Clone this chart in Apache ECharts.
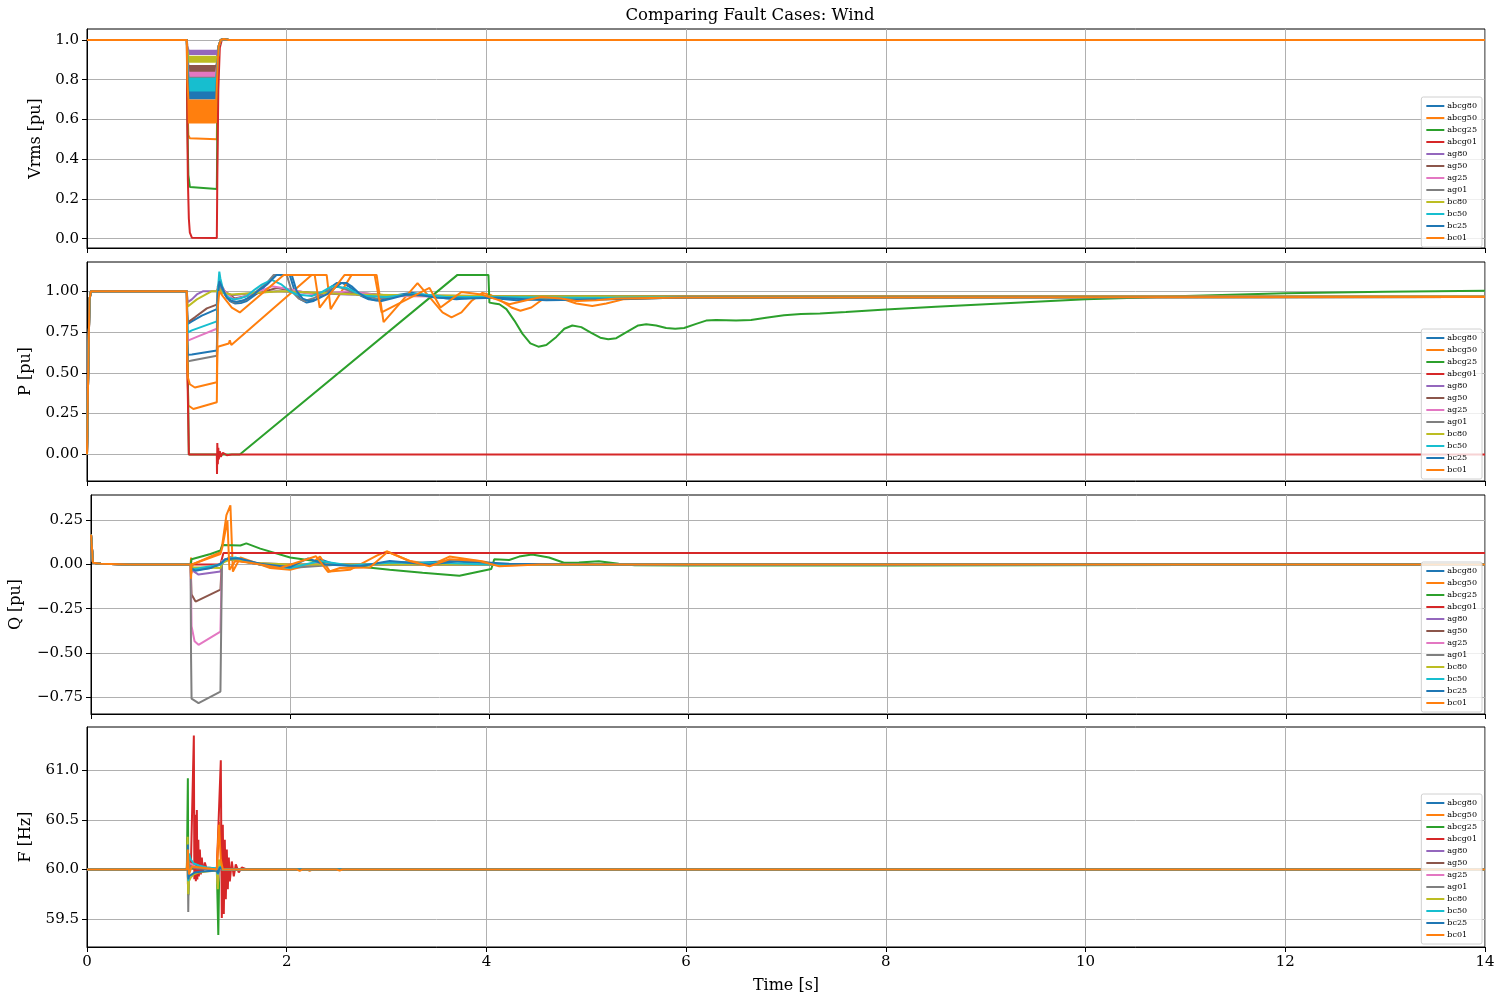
<!DOCTYPE html>
<html>
<head>
<meta charset="utf-8">
<title>Comparing Fault Cases: Wind</title>
<script src="https://cdn.jsdelivr.net/npm/echarts@6.0.0/dist/echarts.min.js"></script>
<style>
  html, body { margin: 0; padding: 0; background: #fff; }
  #chart { width: 1500px; height: 1000px; }
</style>
</head>
<body>
<div id="chart"></div>
<script>
// 故障工况名称与颜色
const caseNames = ['abcg80', 'abcg50', 'abcg25', 'abcg01', 'ag80', 'ag50', 'ag25', 'ag01', 'bc80', 'bc50', 'bc25', 'bc01'];
const caseColors = ['#1f77b4', '#ff7f0e', '#2ca02c', '#d62728', '#9467bd', '#8c564b', '#e377c2', '#7f7f7f', '#bcbd22', '#17becf', '#1f77b4', '#ff7f0e'];

const vrmsTicks = [0, 0.2, 0.4, 0.6, 0.8, 1.0];
const pTicks = [0, 0.25, 0.5, 0.75, 1.0];
const qTicks = [-0.75, -0.5, -0.25, 0, 0.25];
const fTicks = [59.5, 60.0, 60.5, 61.0];

// 故障期间 Vrms 纹波采样时刻 (5 ms)
const rippleT = [1.015, 1.020, 1.025, 1.030, 1.035, 1.040, 1.045, 1.050, 1.055, 1.060, 1.065, 1.070, 1.075, 1.080,
  1.085, 1.090, 1.095, 1.100, 1.105, 1.110, 1.115, 1.120, 1.125, 1.130, 1.135, 1.140, 1.145, 1.150, 1.155, 1.160,
  1.165, 1.170, 1.175, 1.180, 1.185, 1.190, 1.195, 1.200, 1.205, 1.210, 1.215, 1.220, 1.225, 1.230, 1.235, 1.240,
  1.245, 1.250, 1.255, 1.260, 1.265, 1.270, 1.275, 1.280, 1.285, 1.290, 1.295];

// ---------- Vrms ----------
const vrmsPre = [[0, 1.0], [1.0, 1.0]];
const vrmsPost = [[1.32, 0.97], [1.34, 1.0], [1.37, 1.005], [1.42, 1.0], [14, 1.0]];

const vrms_abcg80 = [[1.005, 0.9], [1.015, 0.81], [1.03, 0.8], [1.3, 0.8], [1.31, 0.95]];
const vrms_abcg50 = [[1.005, 0.7], [1.015, 0.52], [1.03, 0.505], [1.3, 0.5], [1.31, 0.85]];
const vrms_abcg25 = [[1.005, 0.6], [1.015, 0.32], [1.03, 0.26], [1.05, 0.25], [1.3, 0.25], [1.31, 0.8]];
const vrms_abcg01 = [[1.005, 0.55], [1.01, 0.3], [1.02, 0.1], [1.03, 0.03], [1.05, 0.005], [1.3, 0.003],
  [1.305, 0.3], [1.315, 0.75], [1.33, 0.96]];

const vrmsRip_ag80 = [
  0.950, 0.925, 0.949, 0.926, 0.950, 0.925, 0.949, 0.926, 0.950, 0.925, 0.949, 0.926, 0.950, 0.925,
  0.949, 0.926, 0.950, 0.925, 0.949, 0.926, 0.950, 0.925, 0.949, 0.926, 0.950, 0.925, 0.949, 0.926,
  0.950, 0.925, 0.949, 0.926, 0.950, 0.925, 0.949, 0.926, 0.950, 0.925, 0.949, 0.926, 0.950, 0.925,
  0.949, 0.926, 0.950, 0.925, 0.949, 0.926, 0.950, 0.925, 0.949, 0.926, 0.950, 0.925, 0.949, 0.926, 0.950];
const vrmsRip_ag50 = [
  0.874, 0.836, 0.873, 0.837, 0.874, 0.836, 0.873, 0.837, 0.874, 0.836, 0.873, 0.837, 0.874, 0.836,
  0.873, 0.837, 0.874, 0.836, 0.873, 0.837, 0.874, 0.836, 0.873, 0.837, 0.874, 0.836, 0.873, 0.837,
  0.874, 0.836, 0.873, 0.837, 0.874, 0.836, 0.873, 0.837, 0.874, 0.836, 0.873, 0.837, 0.874, 0.836,
  0.873, 0.837, 0.874, 0.836, 0.873, 0.837, 0.874, 0.836, 0.873, 0.837, 0.874, 0.836, 0.873, 0.837, 0.874];
const vrmsRip_ag25 = [
  0.840, 0.809, 0.839, 0.810, 0.840, 0.809, 0.839, 0.810, 0.840, 0.809, 0.839, 0.810, 0.840, 0.809,
  0.839, 0.810, 0.840, 0.809, 0.839, 0.810, 0.840, 0.809, 0.839, 0.810, 0.840, 0.809, 0.839, 0.810,
  0.840, 0.809, 0.839, 0.810, 0.840, 0.809, 0.839, 0.810, 0.840, 0.809, 0.839, 0.810, 0.840, 0.809,
  0.839, 0.810, 0.840, 0.809, 0.839, 0.810, 0.840, 0.809, 0.839, 0.810, 0.840, 0.809, 0.839, 0.810, 0.840];
const vrmsRip_ag01 = [
  0.815, 0.744, 0.814, 0.745, 0.815, 0.744, 0.814, 0.745, 0.815, 0.744, 0.814, 0.745, 0.815, 0.744,
  0.814, 0.745, 0.815, 0.744, 0.814, 0.745, 0.815, 0.744, 0.814, 0.745, 0.815, 0.744, 0.814, 0.745,
  0.815, 0.744, 0.814, 0.745, 0.815, 0.744, 0.814, 0.745, 0.815, 0.744, 0.814, 0.745, 0.815, 0.744,
  0.814, 0.745, 0.815, 0.744, 0.814, 0.745, 0.815, 0.744, 0.814, 0.745, 0.815, 0.744, 0.814, 0.745, 0.815];
const vrmsRip_bc80 = [
  0.920, 0.885, 0.919, 0.886, 0.920, 0.885, 0.919, 0.886, 0.920, 0.885, 0.919, 0.886, 0.920, 0.885,
  0.919, 0.886, 0.920, 0.885, 0.919, 0.886, 0.920, 0.885, 0.919, 0.886, 0.920, 0.885, 0.919, 0.886,
  0.920, 0.885, 0.919, 0.886, 0.920, 0.885, 0.919, 0.886, 0.920, 0.885, 0.919, 0.886, 0.920, 0.885,
  0.919, 0.886, 0.920, 0.885, 0.919, 0.886, 0.920, 0.885, 0.919, 0.886, 0.920, 0.885, 0.919, 0.886, 0.920];
const vrmsRip_bc50 = [
  0.810, 0.731, 0.809, 0.732, 0.810, 0.731, 0.809, 0.732, 0.810, 0.731, 0.809, 0.732, 0.810, 0.731,
  0.809, 0.732, 0.810, 0.731, 0.809, 0.732, 0.810, 0.731, 0.809, 0.732, 0.810, 0.731, 0.809, 0.732,
  0.810, 0.731, 0.809, 0.732, 0.810, 0.731, 0.809, 0.732, 0.810, 0.731, 0.809, 0.732, 0.810, 0.731,
  0.809, 0.732, 0.810, 0.731, 0.809, 0.732, 0.810, 0.731, 0.809, 0.732, 0.810, 0.731, 0.809, 0.732, 0.810];
const vrmsRip_bc25 = [
  0.740, 0.700, 0.739, 0.701, 0.740, 0.700, 0.739, 0.701, 0.740, 0.700, 0.739, 0.701, 0.740, 0.700,
  0.739, 0.701, 0.740, 0.700, 0.739, 0.701, 0.740, 0.700, 0.739, 0.701, 0.740, 0.700, 0.739, 0.701,
  0.740, 0.700, 0.739, 0.701, 0.740, 0.700, 0.739, 0.701, 0.740, 0.700, 0.739, 0.701, 0.740, 0.700,
  0.739, 0.701, 0.740, 0.700, 0.739, 0.701, 0.740, 0.700, 0.739, 0.701, 0.740, 0.700, 0.739, 0.701, 0.740];
const vrmsRip_bc01 = [
  0.700, 0.580, 0.699, 0.582, 0.700, 0.580, 0.699, 0.582, 0.700, 0.580, 0.699, 0.582, 0.700, 0.580,
  0.699, 0.582, 0.700, 0.580, 0.699, 0.582, 0.700, 0.580, 0.699, 0.582, 0.700, 0.580, 0.699, 0.582,
  0.700, 0.580, 0.699, 0.582, 0.700, 0.580, 0.699, 0.582, 0.700, 0.580, 0.699, 0.582, 0.700, 0.580,
  0.699, 0.582, 0.700, 0.580, 0.699, 0.582, 0.700, 0.580, 0.699, 0.582, 0.700, 0.580, 0.699, 0.582, 0.700];

// ---------- P ----------
const pPre = [[0, 0], [0.012, 0.5], [0.025, 0.95], [0.04, 1.0], [1.0, 1.0]];
const p_abcg80 = [[1.003, 0.85], [1.01, 0.80], [1.05, 0.815], [1.15, 0.85], [1.3, 0.89], [1.31, 1.0], [1.325, 1.07],
  [1.34, 1.06], [1.38, 0.98], [1.43, 0.94], [1.48, 0.925], [1.54, 0.928], [1.6, 0.94], [1.68, 0.975], [1.75, 1.01],
  [1.82, 1.06], [1.88, 1.1], [2.03, 1.1], [2.08, 1.0], [2.14, 0.95], [2.2, 0.93], [2.27, 0.94], [2.35, 0.97],
  [2.43, 1.02], [2.5, 1.05], [2.56, 1.05], [2.62, 1.03], [2.75, 0.97], [2.82, 0.95], [2.9, 0.945], [3.0, 0.955],
  [3.1, 0.975], [3.25, 0.99], [3.45, 0.97], [3.6, 0.955], [3.7, 0.95], [3.95, 0.965], [4.3, 0.945], [4.7, 0.955],
  [5.2, 0.95], [6, 0.962], [14, 0.965]];
const p_abcg50 = [[1.003, 0.6], [1.015, 0.3], [1.065, 0.278], [1.3, 0.32], [1.305, 0.6], [1.31, 0.66], [1.42, 0.68],
  [1.43, 0.70], [1.445, 0.67], [2.25, 1.1], [2.4, 1.1], [2.44, 0.89], [2.65, 1.1], [2.9, 1.1], [2.97, 0.81],
  [3.31, 1.05], [3.45, 0.95], [3.56, 0.87], [3.65, 0.84], [3.75, 0.87], [3.85, 0.94], [3.96, 0.99], [4.05, 0.975],
  [4.15, 0.94], [4.25, 0.9], [4.34, 0.88], [4.45, 0.9], [4.55, 0.945], [4.63, 0.96], [4.75, 0.955], [4.9, 0.925],
  [5.06, 0.91], [5.2, 0.925], [5.37, 0.95], [5.6, 0.955], [5.8, 0.96], [6.5, 0.96], [14, 0.965]];
const p_abcg25 = [[1.003, 0.8], [1.02, 0.0], [1.53, 0.0], [3.71, 1.1], [4.02, 1.1], [4.03, 0.93], [4.08, 0.925],
  [4.13, 0.92], [4.2, 0.89], [4.28, 0.82], [4.36, 0.74], [4.44, 0.68], [4.52, 0.66], [4.6, 0.67], [4.7, 0.72],
  [4.78, 0.77], [4.86, 0.79], [4.95, 0.78], [5.05, 0.745], [5.14, 0.715], [5.22, 0.705], [5.3, 0.712], [5.42, 0.755],
  [5.52, 0.79], [5.6, 0.797], [5.7, 0.79], [5.8, 0.775], [5.89, 0.77], [5.98, 0.775], [6.1, 0.8], [6.2, 0.82],
  [6.3, 0.823], [6.5, 0.821], [6.65, 0.823], [6.8, 0.838], [6.98, 0.853], [7.15, 0.86], [7.34, 0.864], [7.6, 0.872],
  [8.0, 0.888], [8.5, 0.905], [9.0, 0.92], [9.5, 0.935], [10, 0.95], [10.5, 0.96], [11, 0.97], [12, 0.987],
  [13, 0.997], [14, 1.003]];
const p_abcg01 = [[1.003, 0.6], [1.02, 0.0], [1.3, 0.0], [1.302, -0.12], [1.305, 0.07], [1.31, -0.06], [1.315, 0.04],
  [1.32, -0.03], [1.33, 0.02], [1.34, -0.015], [1.36, 0.01], [1.4, -0.005], [1.45, 0], [14, 0]];
const p_ag80 = [[1.003, 0.97], [1.01, 0.933], [1.05, 0.95], [1.1, 0.98], [1.165, 1.0], [1.3, 1.0], [1.32, 1.03],
  [1.35, 1.0], [1.45, 0.975], [1.7, 0.99], [1.9, 1.0], [2.2, 0.99], [2.6, 0.98], [3.0, 0.975], [3.5, 0.97],
  [4.5, 0.968], [14, 0.967]];
const p_ag50 = [[1.003, 0.88], [1.01, 0.81], [1.08, 0.84], [1.2, 0.895], [1.3, 0.918], [1.31, 1.03], [1.33, 1.05],
  [1.38, 1.0], [1.48, 0.955], [1.7, 0.985], [1.9, 1.02], [2.1, 1.0], [2.3, 0.985], [2.7, 0.99], [3, 0.975],
  [4, 0.97], [14, 0.967]];
const p_ag25 = [[1.003, 0.8], [1.01, 0.697], [1.1, 0.72], [1.3, 0.77], [1.31, 1.0], [1.33, 1.05], [1.38, 1.0],
  [1.47, 0.95], [1.65, 0.98], [1.85, 1.03], [2.05, 1.01], [2.3, 0.975], [2.6, 1.0], [3, 0.97], [4, 0.965],
  [14, 0.966]];
const p_ag01 = [[1.003, 0.7], [1.01, 0.57], [1.05, 0.575], [1.3, 0.605], [1.31, 0.95], [1.325, 1.05], [1.36, 1.0],
  [1.42, 0.95], [1.47, 0.93], [1.53, 0.935], [1.6, 0.95], [1.7, 1.0], [1.8, 1.05], [1.87, 1.1], [2.0, 1.1],
  [2.05, 1.0], [2.12, 0.955], [2.18, 0.94], [2.26, 0.955], [2.35, 0.98], [2.5, 1.03], [2.6, 1.01], [2.7, 0.98],
  [2.9, 0.955], [3.05, 0.965], [3.2, 0.98], [3.4, 0.975], [3.6, 0.96], [4, 0.965], [5, 0.955], [6, 0.962], [14, 0.965]];
const p_bc80 = [[1.003, 0.95], [1.01, 0.906], [1.1, 0.95], [1.25, 1.0], [1.3, 1.0], [1.32, 1.02], [1.35, 0.99],
  [1.45, 0.98], [1.7, 0.99], [1.95, 1.0], [2.3, 0.99], [2.7, 0.98], [3.2, 0.975], [4, 0.97], [6, 0.968], [14, 0.967]];
const p_bc50 = [[1.003, 0.85], [1.01, 0.748], [1.05, 0.76], [1.3, 0.815], [1.31, 1.0], [1.325, 1.12], [1.335, 1.08],
  [1.37, 0.99], [1.42, 0.96], [1.47, 0.95], [1.53, 0.955], [1.6, 0.97], [1.68, 1.01], [1.75, 1.04], [1.85, 1.07],
  [1.95, 1.04], [2.03, 1.0], [2.1, 0.98], [2.25, 0.97], [2.35, 0.995], [2.45, 1.03], [2.6, 1.02], [2.7, 0.99],
  [2.8, 0.97], [3.0, 0.965], [3.15, 0.975], [3.3, 0.985], [3.45, 0.975], [3.6, 0.965], [4, 0.965], [5, 0.96],
  [6, 0.963], [14, 0.965]];
const p_bc25 = [[1.003, 0.7], [1.01, 0.61], [1.05, 0.612], [1.3, 0.636], [1.31, 0.95], [1.325, 1.06], [1.34, 1.05],
  [1.4, 0.96], [1.45, 0.94], [1.5, 0.935], [1.57, 0.945], [1.65, 0.97], [1.73, 1.01], [1.8, 1.04], [1.9, 1.1],
  [2.05, 1.1], [2.1, 1.0], [2.16, 0.955], [2.22, 0.94], [2.3, 0.95], [2.4, 0.98], [2.48, 1.02], [2.55, 1.05],
  [2.6, 1.05], [2.65, 1.03], [2.72, 0.99], [2.8, 0.96], [2.88, 0.945], [2.95, 0.94], [3.05, 0.955], [3.2, 0.98],
  [3.35, 0.975], [3.5, 0.96], [3.8, 0.955], [4.1, 0.96], [4.6, 0.945], [5.2, 0.95], [6, 0.962], [14, 0.965]];
const p_bc01 = [[1.003, 0.6], [1.01, 0.472], [1.03, 0.43], [1.08, 0.41], [1.3, 0.442], [1.31, 0.9], [1.325, 1.0],
  [1.36, 0.97], [1.45, 0.9], [1.53, 0.87], [1.97, 1.1], [2.28, 1.1], [2.33, 0.9], [2.58, 1.1], [2.88, 1.1],
  [2.95, 0.87], [3.43, 1.02], [3.54, 0.9], [3.65, 0.95], [3.75, 0.995], [3.95, 0.98], [4.1, 0.95], [4.23, 0.92],
  [4.4, 0.945], [4.55, 0.965], [4.75, 0.955], [4.9, 0.94], [5.1, 0.945], [5.3, 0.955], [6, 0.962], [14, 0.965]];

// ---------- Q ----------
const qPre = [[0, 0.17], [0.012, 0.17], [0.02, 0.01], [0.1, 0.005], [0.4, 0.0], [1.0, 0.0]];
const q_abcg80 = [[1.01, -0.02], [1.05, -0.03], [1.2, -0.02], [1.3, 0.0], [1.33, 0.02], [1.45, 0.035], [1.6, 0.01],
  [1.8, -0.01], [2.0, -0.02], [2.2, 0.0], [2.3, 0.03], [2.45, 0.0], [2.7, -0.01], [3.0, 0.015], [3.3, 0.01],
  [3.6, 0.02], [4, 0.005], [4.5, 0.0], [14, 0.0]];
const q_abcg50 = [[1.005, 0.04], [1.01, -0.05], [1.02, 0.0], [1.3, 0.07], [1.32, 0.12], [1.36, 0.28], [1.4, 0.335],
  [1.415, 0.34], [1.425, -0.04], [1.5, 0.04], [1.6, 0.02], [1.8, -0.02], [2.0, -0.03], [2.2, 0.0], [2.3, 0.045],
  [2.4, -0.04], [2.6, -0.03], [2.87, 0.05], [2.97, 0.075], [3.2, 0.02], [3.43, 0.0], [3.6, 0.045], [3.94, 0.017],
  [4.1, -0.005], [4.5, 0.0], [14, 0.0]];
const q_abcg25 = [[1.01, 0.03], [1.2, 0.06], [1.3, 0.08], [1.32, 0.11], [1.5, 0.108], [1.56, 0.12], [1.7, 0.09],
  [2.0, 0.04], [2.5, 0.0], [3.0, -0.03], [3.33, -0.047], [3.7, -0.063], [4.02, -0.025], [4.05, 0.03], [4.2, 0.026],
  [4.3, 0.045], [4.43, 0.057], [4.6, 0.04], [4.75, 0.01], [4.9, 0.012], [5.1, 0.018], [5.3, 0.005], [5.46, -0.004],
  [6, -0.006], [8, -0.005], [14, 0.0]];
const q_abcg01 = [[1.3, 0.0], [1.33, 0.065], [14, 0.065]];
const q_ag80 = [[1.01, -0.03], [1.08, -0.057], [1.3, -0.04], [1.32, 0.02], [1.4, 0.04], [1.6, 0.01], [2, 0], [14, 0]];
const q_ag50 = [[1.01, -0.17], [1.05, -0.21], [1.3, -0.142], [1.315, 0.02], [1.4, 0.04], [1.7, 0.0], [14, 0]];
const q_ag25 = [[1.01, -0.35], [1.04, -0.435], [1.08, -0.455], [1.3, -0.38], [1.315, 0.02], [1.4, 0.035],
  [1.7, 0.0], [14, 0]];
const q_ag01 = [[1.005, -0.53], [1.01, -0.76], [1.08, -0.785], [1.3, -0.72], [1.315, 0.0], [1.35, 0.03],
  [1.5, 0.02], [1.8, -0.01], [2.1, -0.015], [2.5, 0.0], [14, 0]];
const q_bc80 = [[1.02, -0.015], [1.3, -0.02], [1.32, 0.01], [1.4, 0.03], [1.6, 0.01], [2, 0.0], [14, 0]];
const q_bc50 = [[1.01, -0.03], [1.1, -0.02], [1.3, 0.0], [1.35, 0.03], [1.45, 0.04], [1.7, 0.0], [2.0, -0.02],
  [2.3, 0.02], [2.6, -0.005], [3.0, 0.01], [3.5, 0.01], [4, 0.0], [14, 0]];
const q_bc25 = [[1.01, -0.025], [1.05, -0.035], [1.2, -0.02], [1.3, 0.005], [1.35, 0.03], [1.48, 0.035],
  [1.7, 0.005], [2.0, -0.015], [2.18, 0.035], [2.35, 0.0], [2.7, -0.01], [3.0, 0.02], [3.4, 0.0], [3.7, 0.02],
  [4.2, 0.005], [5, 0.0], [14, 0]];
const q_bc01 = [[1.005, -0.08], [1.01, 0.0], [1.3, 0.06], [1.32, 0.1], [1.37, 0.25], [1.38, 0.256], [1.39, -0.03],
  [1.45, 0.02], [1.6, 0.01], [1.9, -0.02], [2.26, 0.047], [2.38, -0.042], [2.5, -0.02], [2.8, -0.017],
  [2.98, 0.072], [3.2, 0.02], [3.4, -0.01], [3.6, 0.03], [3.9, 0.02], [4.1, -0.01], [4.5, 0.0], [14, 0.0]];

// ---------- F ----------
const fPre = [[0, 60], [1.0, 60]];
const f_abcg80 = [[1.005, 60.15], [1.01, 59.92], [1.02, 60.12], [1.04, 60.08], [1.07, 60.05], [1.12, 60.03],
  [1.2, 60.02], [1.3, 60.01], [1.31, 59.95], [1.32, 60.05], [1.35, 60], [14, 60]];
const f_abcg50 = [[1.005, 60.32], [1.01, 59.85], [1.03, 60.08], [1.1, 60.02], [1.3, 60], [1.31, 60.2], [1.325, 60.48],
  [1.335, 60.3], [1.35, 60.05], [1.4, 60], [2.2, 60], [2.23, 59.985], [2.26, 60], [14, 60]];
const f_abcg25 = [[1.01, 60.92], [1.015, 59.74], [1.025, 60.05], [1.05, 60.01], [1.3, 60], [1.315, 59.34],
  [1.325, 60.05], [1.35, 60], [14, 60]];
const f_abcg01 = [[1.04, 60.02], [1.07, 61.35], [1.075, 59.9], [1.085, 60.55], [1.09, 59.88], [1.1, 60.6],
  [1.105, 59.9], [1.115, 60.3], [1.12, 59.93], [1.13, 60.2], [1.14, 59.95], [1.15, 60.12], [1.16, 59.97],
  [1.18, 60.07], [1.2, 60.0], [1.3, 60], [1.34, 61.1], [1.35, 59.51], [1.36, 60.45], [1.37, 59.55], [1.38, 60.3],
  [1.39, 59.7], [1.40, 60.2], [1.41, 59.8], [1.42, 60.12], [1.43, 59.88], [1.45, 60.08], [1.47, 59.93],
  [1.49, 60.05], [1.52, 59.97], [1.55, 60.02], [1.6, 60], [14, 60]];
const f_ag80 = [[1.01, 60.08], [1.015, 59.95], [1.03, 60.04], [1.1, 60.01], [1.3, 60], [1.31, 59.96], [1.33, 60],
  [14, 60]];
const f_ag50 = [[1.01, 60.12], [1.015, 59.9], [1.03, 60.05], [1.1, 60.01], [1.3, 60], [1.31, 59.93], [1.33, 60],
  [14, 60]];
const f_ag25 = [[1.01, 60.15], [1.015, 59.85], [1.03, 60.06], [1.1, 60.02], [1.3, 60], [1.31, 59.85], [1.33, 60.02],
  [1.36, 60], [14, 60]];
const f_ag01 = [[1.01, 60.1], [1.014, 59.57], [1.02, 60.05], [1.05, 60.02], [1.3, 60], [1.31, 59.93], [1.33, 60.03],
  [1.36, 60], [14, 60]];
const f_bc80 = [[1.008, 60.33], [1.013, 59.75], [1.02, 59.88], [1.04, 59.92], [1.07, 59.95], [1.12, 59.97],
  [1.2, 59.98], [1.3, 59.99], [1.31, 59.8], [1.32, 60.1], [1.35, 60], [14, 60]];
const f_bc50 = [[1.01, 60.18], [1.015, 59.88], [1.02, 60.16], [1.04, 60.1], [1.07, 60.06], [1.12, 60.04],
  [1.2, 60.02], [1.3, 60.01], [1.31, 59.95], [1.33, 60.03], [1.36, 60], [14, 60]];
const f_bc25 = [[1.01, 60.25], [1.015, 59.9], [1.02, 59.93], [1.04, 59.95], [1.08, 59.97], [1.15, 59.98],
  [1.3, 59.99], [1.31, 59.96], [1.33, 60.02], [1.36, 60], [5.1, 60], [5.12, 59.99], [5.15, 60], [14, 60]];
const f_bc01 = [[1.01, 60.2], [1.02, 59.95], [1.05, 60.03], [1.3, 60], [1.32, 60.45], [1.34, 60.1], [1.36, 60],
  [2.1, 60], [2.13, 59.985], [2.16, 60], [2.5, 60], [2.53, 59.99], [2.56, 60], [14, 60]];

const FONT = 'DejaVu Serif';

// 纹波段 -> [t, v] 点
const ripple = values => rippleT.map((t, i) => [t, values[i]]);
const vrmsBand = (startV, values) =>
  vrmsPre.concat([[1.005, startV]], ripple(values), [[1.3, values[values.length - 1]], [1.31, 0.9]], vrmsPost);

const vrmsData = {
  abcg80: vrmsPre.concat(vrms_abcg80, vrmsPost),
  abcg50: vrmsPre.concat(vrms_abcg50, vrmsPost),
  abcg25: vrmsPre.concat(vrms_abcg25, vrmsPost),
  abcg01: vrmsPre.concat(vrms_abcg01, [[1.35, 1.0], [1.38, 1.005], [1.42, 1.0], [14, 1.0]]),
  ag80: vrmsBand(0.97, vrmsRip_ag80),
  ag50: vrmsBand(0.92, vrmsRip_ag50),
  ag25: vrmsBand(0.9, vrmsRip_ag25),
  ag01: vrmsBand(0.88, vrmsRip_ag01),
  bc80: vrmsBand(0.95, vrmsRip_bc80),
  bc50: vrmsBand(0.88, vrmsRip_bc50),
  bc25: vrmsBand(0.85, vrmsRip_bc25),
  bc01: vrmsBand(0.8, vrmsRip_bc01),
};
const pData = {
  abcg80: pPre.concat(p_abcg80), abcg50: pPre.concat(p_abcg50), abcg25: pPre.concat(p_abcg25),
  abcg01: pPre.concat(p_abcg01), ag80: pPre.concat(p_ag80), ag50: pPre.concat(p_ag50),
  ag25: pPre.concat(p_ag25), ag01: pPre.concat(p_ag01), bc80: pPre.concat(p_bc80),
  bc50: pPre.concat(p_bc50), bc25: pPre.concat(p_bc25), bc01: pPre.concat(p_bc01),
};
const qData = {
  abcg80: qPre.concat(q_abcg80), abcg50: qPre.concat(q_abcg50), abcg25: qPre.concat(q_abcg25),
  abcg01: qPre.concat(q_abcg01), ag80: qPre.concat(q_ag80), ag50: qPre.concat(q_ag50),
  ag25: qPre.concat(q_ag25), ag01: qPre.concat(q_ag01), bc80: qPre.concat(q_bc80),
  bc50: qPre.concat(q_bc50), bc25: qPre.concat(q_bc25), bc01: qPre.concat(q_bc01),
};
const fData = {
  abcg80: fPre.concat(f_abcg80), abcg50: fPre.concat(f_abcg50), abcg25: fPre.concat(f_abcg25),
  abcg01: fPre.concat(f_abcg01), ag80: fPre.concat(f_ag80), ag50: fPre.concat(f_ag50),
  ag25: fPre.concat(f_ag25), ag01: fPre.concat(f_ag01), bc80: fPre.concat(f_bc80),
  bc50: fPre.concat(f_bc50), bc25: fPre.concat(f_bc25), bc01: fPre.concat(f_bc01),
};

// 面板布局
const panels = [
  { top: 29, height: 219, min: -0.047, max: 1.055, ticks: vrmsTicks, digits: 1, name: 'Vrms [pu]', gap: 43, data: vrmsData, legendTop: 97 },
  { top: 262, height: 219, min: -0.163, max: 1.179, ticks: pTicks, digits: 2, name: 'P [pu]', gap: 53, data: pData, legendTop: 329 },
  { top: 495, height: 219, min: -0.847, max: 0.394, ticks: qTicks, digits: 2, name: 'Q [pu]', gap: 67, data: qData, legendTop: 562 },
  { top: 727, height: 220, min: 59.218, max: 61.436, ticks: fTicks, digits: 1, name: 'F [Hz]', gap: 53, data: fData, legendTop: 794 },
];

const fmt = digits => v => {
  const s = Math.abs(v).toFixed(digits);
  return v < -1e-9 ? '\u2212' + s : s;
};

const grid = panels.map(p => ({
  left: 87, right: 15, top: p.top, height: p.height,
  show: true, borderColor: '#000', borderWidth: 1, backgroundColor: 'transparent',
}));

const xAxis = panels.map((p, i) => ({
  type: 'value', gridIndex: i, min: 0, max: 14, interval: 2,
  axisLine: { show: true, onZero: false, lineStyle: { color: '#000', width: 1 } },
  axisTick: { show: true, length: 5, lineStyle: { color: '#000' } },
  axisLabel: { show: i === 3, color: '#000', fontFamily: FONT, fontSize: 15, margin: 8 },
  splitLine: { show: true, lineStyle: { color: '#b0b0b0', width: 1 } },
  name: i === 3 ? 'Time [s]' : '', nameLocation: 'middle', nameGap: 31,
  nameTextStyle: { color: '#000', fontFamily: FONT, fontSize: 16 },
}));

const yAxis = panels.map((p, i) => ({
  type: 'value', gridIndex: i, min: p.min, max: p.max,
  axisLine: { show: true, onZero: false, lineStyle: { color: '#000', width: 1 } },
  axisTick: { show: true, length: 5, customValues: p.ticks, lineStyle: { color: '#000' } },
  axisLabel: { color: '#000', fontFamily: FONT, fontSize: 15, margin: 8, customValues: p.ticks, formatter: fmt(p.digits) },
  splitLine: { show: true, lineStyle: { color: '#b0b0b0', width: 1 } },
  name: p.name, nameLocation: 'middle', nameGap: p.gap, nameRotate: 90,
  nameTextStyle: { color: '#000', fontFamily: FONT, fontSize: 16 },
}));

const legend = panels.map(p => ({
  data: caseNames, orient: 'vertical', right: 18, top: p.legendTop,
  icon: 'rect', itemWidth: 18, itemHeight: 2, itemGap: 2,
  padding: [4, 5, 4, 5], backgroundColor: 'rgba(255,255,255,0.8)',
  borderColor: '#d0d0d0', borderWidth: 1, borderRadius: 2,
  textStyle: { fontFamily: FONT, fontSize: 8, lineHeight: 10, color: '#000', padding: [0, 0, 0, -2] },
  selectedMode: false,
}));

const series = [];
panels.forEach((p, i) => {
  caseNames.forEach((name, k) => {
    series.push({
      type: 'line', name, xAxisIndex: i, yAxisIndex: i,
      data: p.data[name], showSymbol: false, symbol: 'none',
      color: caseColors[k],
      lineStyle: { width: 2, color: caseColors[k] },
      emphasis: { disabled: true }, animation: false,
    });
  });
});

const chart = echarts.init(document.getElementById('chart'), null, { renderer: 'canvas' });
chart.setOption({
  animation: false,
  title: {
    text: 'Comparing Fault Cases: Wind', left: 'center', top: 2,
    textStyle: { fontFamily: FONT, fontSize: 16.5, fontWeight: 'normal', color: '#000' },
  },
  grid, xAxis, yAxis, legend, series,
});
</script>
</body>
</html>
